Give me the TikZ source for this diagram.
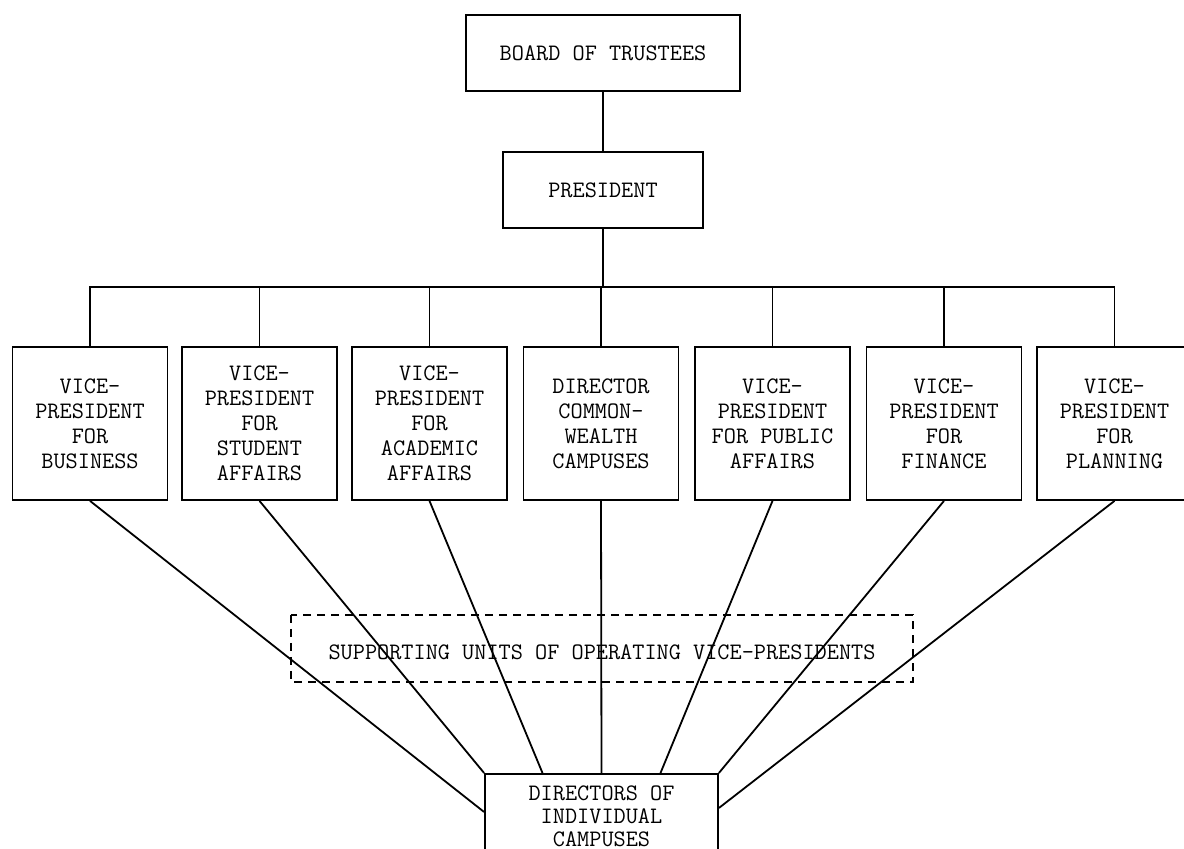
\documentclass[tikz,border=0pt]{standalone}
\usepackage{fontspec}
\usetikzlibrary{calc}
\begin{document}
\begin{tikzpicture}[x=0.5pt,y=-0.5pt,
  every node/.style={font=\ttfamily\fontsize{11.8pt}{12.5pt}\selectfont},
  box/.style={draw, line width=0.9pt, align=center, inner sep=0pt},
  vpbox/.style={box, minimum width=77.5pt, minimum height=76.5pt},
  link/.style={line width=0.9pt},
  ]
\useasboundingbox (0,0) rectangle (1184,849);

% top of the hierarchy
\node[box, minimum width=137pt, minimum height=38pt] (board) at (603,53) {BOARD OF TRUSTEES};
\node[box, minimum width=100pt, minimum height=38pt] (pres) at (603,190) {PRESIDENT};

% officers reporting to the president
\node[vpbox] (b1) at (90,423.5)    {VICE-\\PRESIDENT\\FOR\\BUSINESS};
\node[vpbox] (b2) at (259.5,423.5) {VICE-\\PRESIDENT\\FOR\\STUDENT\\AFFAIRS};
\node[vpbox] (b3) at (429.5,423.5) {VICE-\\PRESIDENT\\FOR\\ACADEMIC\\AFFAIRS};
\node[vpbox] (b4) at (601,423.5)   {DIRECTOR\\COMMON-\\WEALTH\\CAMPUSES};
\node[vpbox] (b5) at (772.5,423.5) {VICE-\\PRESIDENT\\FOR PUBLIC\\AFFAIRS};
\node[vpbox] (b6) at (944,423.5)   {VICE-\\PRESIDENT\\FOR\\FINANCE};
\node[vpbox] (b7) at (1114.5,423.5){VICE-\\PRESIDENT\\FOR\\PLANNING};

% supporting units (dashed frame, text set slightly low) and campus directors
\draw[line width=0.9pt, dash pattern=on 4pt off 3pt] (291,615) rectangle (913,682);
\node (units) at (602,652) {SUPPORTING UNITS OF OPERATING VICE-PRESIDENTS};
\node[box, anchor=north, minimum width=116.5pt, inner ysep=6pt,
      font=\ttfamily\fontsize{11.8pt}{11.5pt}\selectfont]
  (dirs) at (601.5,773) {DIRECTORS OF\\INDIVIDUAL\\CAMPUSES};

% horizontal distribution line
\coordinate (bus) at (0,287);

\draw[link] (board) -- (pres);
\draw[link] (pres.south) -- (pres.south |- bus);
\draw[link] (b1.north) -- (b1.north |- bus) -- (b7.north |- bus) -- (b7.north);
\foreach \b in {b2,b3,b4,b5,b6}
  \draw[link] (\b.north) -- (\b.north |- bus);

% end points on the campus directors box
\coordinate (d1) at ($(dirs.north west)+(0,39)$);
\coordinate (d3) at ($(dirs.north)+(-59,0)$);
\coordinate (d5) at ($(dirs.north)+(59,0)$);
\coordinate (d7) at ($(dirs.north east)+(0,35)$);

\draw[link] (b1.south) -- (d1);
\draw[link] (b2.south) -- (dirs.north west);
\draw[link] (b3.south) -- (d3);
\draw[link] (b4.south) -- (dirs.north);
\draw[link] (b5.south) -- (d5);
\draw[link] (b6.south) -- (dirs.north east);
\draw[link] (b7.south) -- (d7);
\end{tikzpicture}
\end{document}
